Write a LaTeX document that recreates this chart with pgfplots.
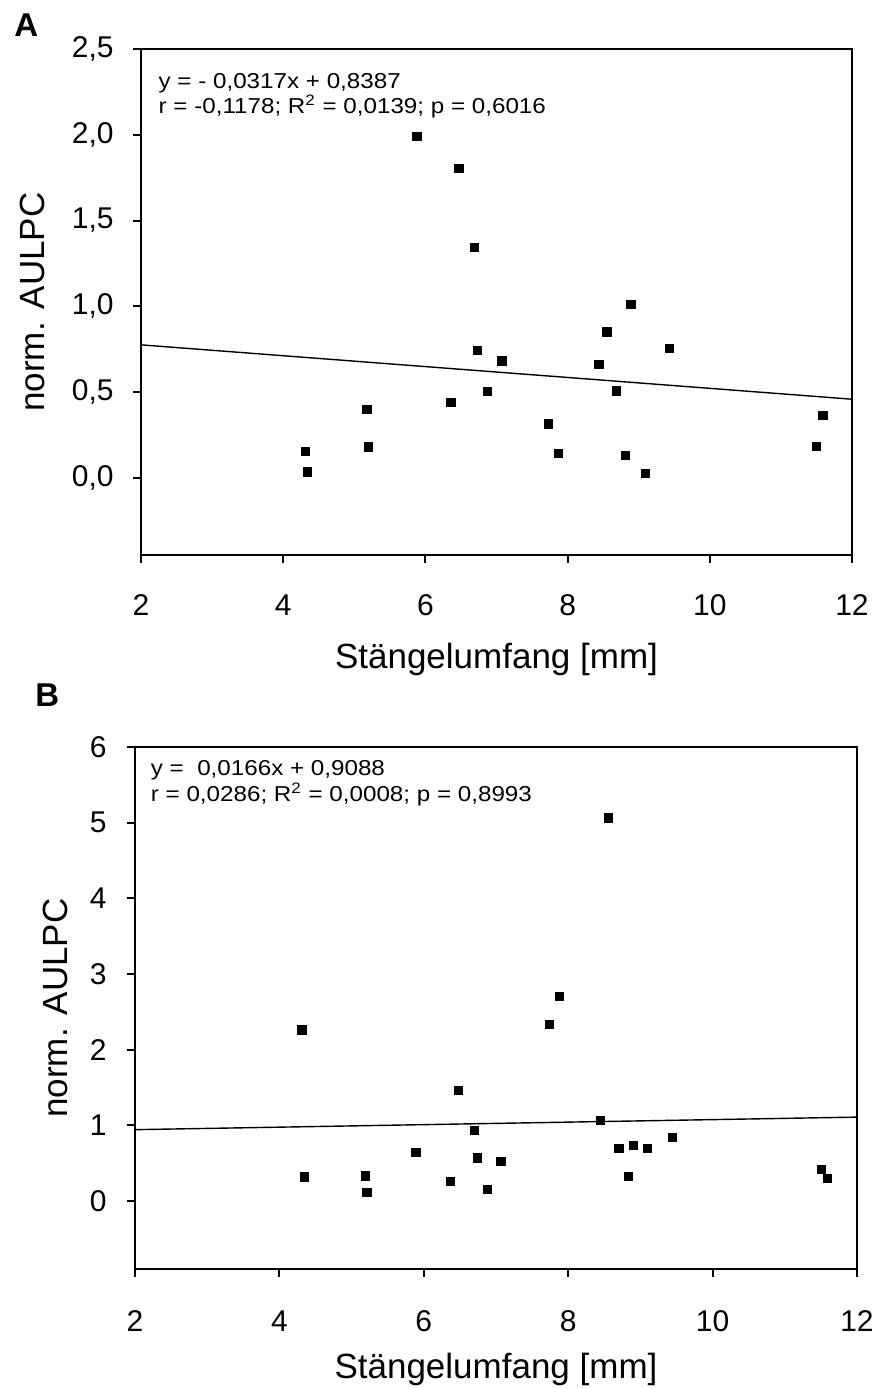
\documentclass[border=0pt]{standalone}
\usepackage{fontspec}
\setmainfont{Liberation Sans}
\newfontfamily\annfont[FakeStretch=1.12]{Liberation Sans}
\usepackage{pgfplots}
\pgfplotsset{compat=1.18}

\pgfplotstableread{
x y
4.31 0.155
4.34 0.035
5.18 0.400
5.20 0.180
5.88 1.990
6.36 0.439
6.47 1.805
6.69 1.342
6.73 0.744
6.87 0.505
7.075 0.682
7.73 0.315
7.87 0.144
8.44 0.663
8.55 0.851
8.69 0.507
8.81 0.132
8.89 1.012
9.09 0.025
9.43 0.756
11.50 0.182
11.59 0.365
}\dataA

\pgfplotstableread{
x y
4.313 2.262
4.345 0.318
5.19 0.331
5.21 0.111
5.89 0.644
6.37 0.260
6.483 1.464
6.70 0.931
6.74 0.569
6.88 0.150
7.07 0.520
7.74 2.330
7.877 2.700
8.45 1.067
8.56 5.062
8.70 0.693
8.83 0.322
8.90 0.737
9.10 0.697
9.44 0.838
11.51 0.419
11.59 0.296
}\dataB

\tikzset{ann/.style={anchor=base west, inner sep=0pt, font=\annfont\fontsize{10.8}{12}\selectfont}}

\pgfplotsset{
  myaxis/.style={
    scale only axis,
    anchor=south west,
    xmin=2, xmax=12,
    xtick={2,4,6,8,10,12},
    axis line style={line width=1pt},
    every tick/.style={black, line width=1pt},
    tick align=outside,
    major tick length=4pt,
    xtick pos=bottom, ytick pos=left,
    tick label style={font=\fontsize{15}{18}\selectfont},
    /pgf/number format/assume math mode=true,
    xticklabel style={anchor=base, inner sep=0pt, yshift=-26pt},
    yticklabel style={anchor=east, inner sep=0pt, xshift=-9.5pt},
    label style={font=\fontsize{17.5}{21}\selectfont},
    xlabel={Stängelumfang [mm]},
    ylabel={norm. AULPC},
  },
  pts/.style={only marks, mark=square*, mark size=2.1pt, black},
  reg/.style={black, line width=0.7pt},
}

\begin{document}
\begin{tikzpicture}
\path[use as bounding box] (0,0) rectangle (439.5pt,-694.5pt);

\node[anchor=base west, inner sep=0pt, font=\fontsize{16.5}{19}\selectfont\bfseries] at (7pt,-18pt) {A};
\node[anchor=base west, inner sep=0pt, font=\fontsize{16.5}{19}\selectfont\bfseries] at (17.5pt,-353.3pt) {B};

\begin{axis}[myaxis,
  at={(70.5pt,-277.5pt)},
  width=355.5pt, height=253pt,
  ymin=-0.45, ymax=2.5,
  ytick={0,0.5,1,1.5,2,2.5},
  yticklabel style={/pgf/number format/.cd, fixed, fixed zerofill, precision=1, use comma},
  xlabel style={at={(axis description cs:0.5,-0.2233)}, anchor=base},
  ylabel style={at={(axis description cs:-0.1526,0.5)}, anchor=center},
]
\addplot[reg] coordinates {(2,0.7753) (12,0.4583)};
\addplot[pts] table[x=x,y=y] {\dataA};
\node[ann] at (axis description cs:0.0243,0.921) {y = - 0,0317x + 0,8387};
\node[ann] at (axis description cs:0.0243,0.8725) {r = -0,1178; R\textsuperscript{2} = 0,0139; p = 0,6016};
\end{axis}

\begin{axis}[myaxis,
  at={(67.5pt,-634.5pt)},
  width=361pt, height=261pt,
  ymin=-0.9, ymax=6,
  ytick={0,1,2,3,4,5,6},
  xticklabel style={yshift=-1pt},
  yticklabel style={xshift=-0.5pt},
  xlabel style={at={(axis description cs:0.5,-0.2088)}, anchor=base},
  ylabel style={at={(axis description cs:-0.1108,0.5)}, anchor=center},
]
\addplot[reg] coordinates {(2,0.942) (12,1.108)};
\addplot[pts] table[x=x,y=y] {\dataB};
\node[ann] at (axis description cs:0.0215,0.9464) {y = \ 0,0166x + 0,9088};
\node[ann] at (axis description cs:0.0215,0.8952) {r = 0,0286; R\textsuperscript{2} = 0,0008; p = 0,8993};
\end{axis}
\end{tikzpicture}
\end{document}
